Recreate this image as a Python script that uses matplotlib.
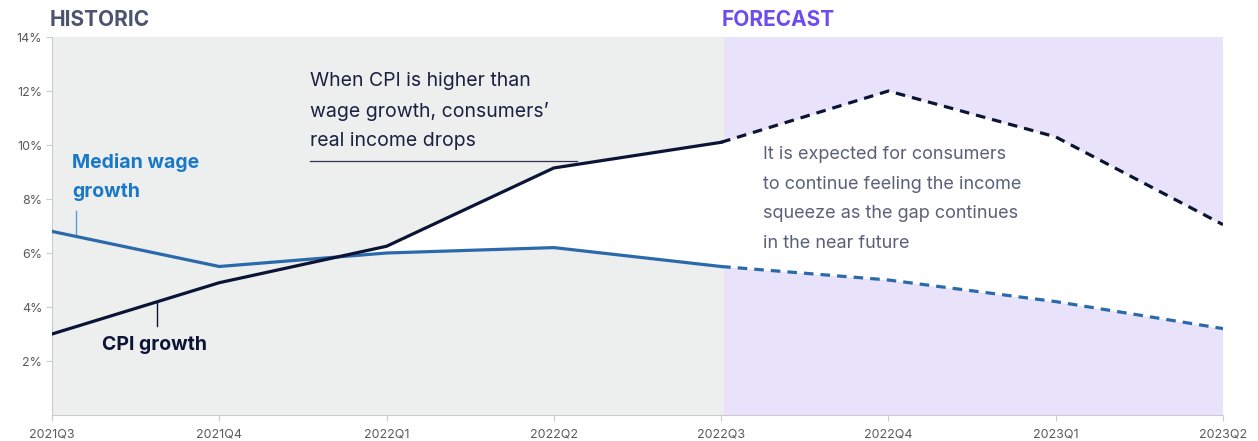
import numpy as np
import matplotlib.pyplot as plt

# quarters and growth rates (%)
quarters = ["2021Q3", "2021Q4", "2022Q1", "2022Q2", "2022Q3", "2022Q4", "2023Q1", "2023Q2"]
wage_growth = [6.8, 5.5, 6.0, 6.2, 5.5, 5.0, 4.2, 3.2]
cpi_growth = [3.0, 4.9, 6.25, 9.15, 10.1, 12.0, 10.3, 7.05]
last_actual = 4  # index of 2022Q3, forecast starts here

plt.rcParams["font.family"] = ["Inter", "DejaVu Sans"]

col_wage = "#2a6aab"
col_cpi = "#0c1436"
col_hist_bg = "#edeeee"
col_fc_bg = "#e8e3fa"

fig = plt.figure(figsize=(12.58, 4.41), dpi=100)
ax = fig.add_axes([52 / 1258, 26 / 441, 1171 / 1258, 378 / 441])

x = np.arange(len(quarters))
w = np.array(wage_growth)
c = np.array(cpi_growth)

# shaded backgrounds
ax.axvspan(0, last_actual + 0.02, ymin=0, ymax=1, color=col_hist_bg, lw=0, zorder=0)
ax.axvspan(last_actual + 0.02, x[-1], ymin=0, ymax=1, color=col_fc_bg, lw=0, zorder=0)

# gap where CPI is above wages
ax.fill_between(x, w, c, where=c > w, interpolate=True, color="white", lw=0, zorder=1)

# actual and forecast lines
h = slice(0, last_actual + 1)
f = slice(last_actual, None)
ax.plot(x[h], w[h], color=col_wage, lw=2.3, zorder=3, solid_joinstyle="round")
ax.plot(x[f], w[f], color=col_wage, lw=2.3, ls=(0, (3, 2.2)), zorder=3)
ax.plot(x[h], c[h], color=col_cpi, lw=2.3, zorder=3, solid_joinstyle="round")
ax.plot(x[f], c[f], color=col_cpi, lw=2.3, ls=(0, (3, 2.2)), zorder=3)

ax.set_xlim(0, x[-1])
ax.set_ylim(0, 14)
ax.set_xticks(x)
ax.set_xticklabels(quarters)
ax.set_yticks([2, 4, 6, 8, 10, 12, 14])
ax.set_yticklabels([f"{v}%" for v in [2, 4, 6, 8, 10, 12, 14]])
ax.tick_params(axis="both", colors="#c9cbd0", labelcolor="#5a5a5a", labelsize=9, length=4, width=0.8)
ax.tick_params(axis="y", pad=3)
ax.tick_params(axis="x", pad=6)
for side in ["top", "right"]:
    ax.spines[side].set_visible(False)
for side in ["left", "bottom"]:
    ax.spines[side].set_color("#c9cbd0")
    ax.spines[side].set_linewidth(0.8)

# section headers
fig.text(50 / 1258, 1 - 20 / 441, "HISTORIC", color="#4b536f", fontsize=15, fontweight="bold", va="center")
fig.text(722 / 1258, 1 - 20 / 441, "FORECAST", color="#6c4cf0", fontsize=15, fontweight="bold", va="center")

# series labels with leader lines
ax.text(0.12, 8.8, "Median wage\ngrowth", color="#1a78c8", fontsize=14, fontweight="bold",
        va="center", ha="left", linespacing=1.8, zorder=4)
ax.plot([0.145, 0.145], [7.55, 6.7], color="#5a9ad8", lw=1, zorder=4)
ax.text(0.3, 2.6, "CPI growth", color=col_cpi, fontsize=14, fontweight="bold", va="center", ha="left", zorder=4)
ax.plot([0.63, 0.63], [4.15, 3.3], color=col_cpi, lw=1, zorder=4)

# commentary
ax.text(1.54, 11.25, "When CPI is higher than\nwage growth, consumers\u2019\nreal income drops",
        color="#1b2140", fontsize=14, va="center", ha="left", linespacing=1.8, zorder=4)
ax.plot([1.54, 3.14], [9.4, 9.4], color="#2a3152", lw=0.9, zorder=4)
ax.text(4.25, 8.0, "It is expected for consumers\nto continue feeling the income\nsqueeze as the gap continues\nin the near future",
        color="#5b6079", fontsize=13, va="center", ha="left", linespacing=1.95, zorder=4)

fig.savefig("out.png", dpi=100)
